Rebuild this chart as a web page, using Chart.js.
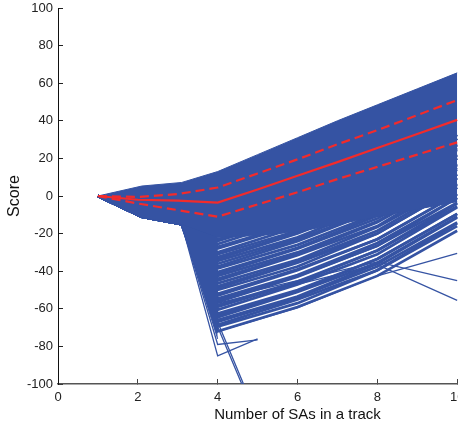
<!DOCTYPE html>
<html>
<head>
<meta charset="utf-8">
<script src="https://cdn.jsdelivr.net/npm/chart.js@4.4.1/dist/chart.umd.min.js"></script>
<style>
  html, body { margin: 0; padding: 0; background: #fff; overflow: hidden; }
  #wrap { width: 458px; height: 429px; overflow: hidden; }
</style>
</head>
<body>
<div id="wrap"><canvas id="myChart" width="560" height="429"></canvas></div>
<script>
const blue = "#3553a3";
const red = "#f22b2b";

// mean score and +/- std per number of SAs
const steps = [1, 2, 3, 4, 5, 6, 7, 8, 9, 10];
const meanScore = [0, -2, -2.5, -3.5, 3.5, 10.8, 18, 25.5, 33, 40.5];
const upperBand = [0, -0.5, 1, 4.5, 12, 19.5, 27.5, 35, 43, 51];
const lowerBand = [0, -4, -7.5, -11, -4.5, 2, 9, 15.5, 22, 28.5];

// outline of the dense bundle of tracks
const edgeX = [1, 2.1, 3.1, 4, 5, 6, 7, 8, 9, 10];
const edgeTop = [0, 5.3, 7.2, 13, 22, 31, 40, 48.5, 57, 65.5];
const edgeLow = [0, -11.5, -15, -22, -21, -19, -15, -11, -7, -3];
const dropX = [3.1, 4];
const dropLow = [-15, -76];

// individual tracks in the lower part
const headX = [1, 2.1, 3.1];
const headY = [0, -11, -15];
const tailX = [4, 6, 8, 10];
const lowAt4 = [-20.5, -21.5, -23, -24, -25.5, -27, -28, -30, -31, -32.5,
  -33.5, -34.5, -36, -37.5, -38.5, -40.5, -41.5, -42.5, -44, -45,
  -46.5, -48, -49, -50, -52, -53, -54.5, -55.5, -56.5, -58,
  -59, -60.5, -62.5, -63.5, -64.5, -66, -67, -68.5, -69.5, -72,
  -55, -72, -57];
const lowAt6 = [-7.5, -8, -10.5, -11, -12, -14.5, -15, -16.5, -18.5, -19.5,
  -20, -22, -23, -24, -26, -27.5, -28, -30, -31, -31.5,
  -34, -35, -35.5, -37.5, -39, -39.5, -42, -42.5, -43, -45.5,
  -46, -47, -50, -50.5, -51, -53.5, -54, -55, -57, -59,
  -45, -59.5, -47];
const lowAt8 = [9.5, 8, 6, 6, 3.5, 3, 1.5, -1, -1, -3.5,
  -3.5, -5, -7, -7.5, -9.5, -10.5, -12, -13.5, -14, -16,
  -16.5, -18.5, -20, -20, -23, -23, -25, -26.5, -26.5, -29,
  -29, -31, -33.5, -33.5, -35.5, -36, -37.5, -39.5, -39.5, -42.5,
  -35, -42.5, -36.5];
const lowAt10 = [32.5, 32.5, 30.5, 30.5, 27.5, 27, 25.5, 24.5, 22, 21.5,
  20, 20, 17, 16.5, 15, 14, 11.5, 11.5, 9.5, 9.5,
  6.5, 6, 4.5, 4.5, 1, 1, -1, -1, -3.5, -4,
  -5.5, -6, -9.5, -9.5, -11, -11.5, -14, -14.5, -16, -18.5,
  -45, -30.5, -55.5];

// tracks that stop at 5 SAs
const shortX = [4, 5];
const shortAt4 = [-67, -69.5, -85, -79];
const shortAt5 = [-118, -120, -76, -76.5];

const pts = (xs, ys) => xs.map((x, i) => ({ x: x, y: ys[i] }));

const datasets = [
  { data: pts(steps, meanScore), borderColor: red, borderWidth: 2.2 },
  { data: pts(steps, upperBand), borderColor: red, borderWidth: 2.2, borderDash: [9, 5] },
  { data: pts(steps, lowerBand), borderColor: red, borderWidth: 2.2, borderDash: [9, 5] },
  { data: pts(edgeX, edgeTop), borderColor: blue, borderWidth: 1, fill: "+1", backgroundColor: blue },
  { data: pts(edgeX, edgeLow), borderColor: blue, borderWidth: 1 },
  { data: pts(dropX, dropLow), borderColor: blue, borderWidth: 1, fill: "-1", backgroundColor: blue },
];

lowAt4.forEach((v, i) => {
  datasets.push({
    data: pts(headX.concat(tailX), headY.concat([v, lowAt6[i], lowAt8[i], lowAt10[i]])),
    borderColor: blue,
    borderWidth: i < 40 ? 2.7 : 1.3,
  });
});
shortAt4.forEach((v, i) => {
  datasets.push({
    data: pts(headX.concat(shortX), headY.concat([v, shortAt5[i]])),
    borderColor: blue,
    borderWidth: 1.3,
  });
});

datasets.forEach((d) => {
  d.showLine = true;
  d.pointRadius = 0;
  if (d.fill === undefined) d.fill = false;
});

Chart.defaults.font.family = "'Liberation Sans', Arial, sans-serif";
Chart.defaults.color = "#222";

const ctx = document.getElementById("myChart").getContext("2d");
const myChart = new Chart(ctx, {
  type: "scatter",
  data: { datasets: datasets },
  options: {
    responsive: false,
    animation: false,
    events: [],
    layout: { padding: { top: 0, right: 23, bottom: 0, left: 0 } },
    elements: { line: { tension: 0 } },
    plugins: { legend: { display: false }, tooltip: { enabled: false } },
    scales: {
      x: {
        type: "linear",
        min: 0,
        max: 12,
        afterFit: (s) => { s.height = 45; },
        ticks: { stepSize: 2, padding: 11, font: { size: 13 }, color: "#222" },
        grid: { drawOnChartArea: false, drawTicks: true, tickLength: -5, color: "#444" },
        border: { display: true, color: "#555", width: 1.5 },
        title: {
          display: true,
          text: "Number of SAs in a track",
          font: { size: 15 },
          color: "#111",
          padding: { top: 0, bottom: 5 },
        },
      },
      y: {
        min: -100,
        max: 100,
        afterFit: (s) => {
          s.width = 58;
          s.paddingTop = 8;
          s.paddingBottom = 0;
        },
        ticks: { stepSize: 20, padding: 10, font: { size: 13 }, color: "#222" },
        grid: { drawOnChartArea: false, drawTicks: true, tickLength: -5, color: "#222" },
        border: { display: true, color: "#111", width: 1 },
        title: {
          display: true,
          text: "Score",
          font: { size: 16 },
          color: "#111",
          padding: { top: 5, bottom: 0 },
        },
      },
    },
  },
});
</script>
</body>
</html>
